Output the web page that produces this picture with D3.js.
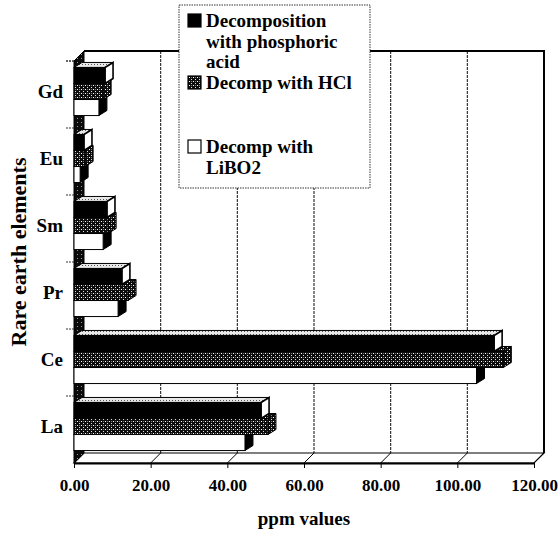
<!DOCTYPE html>
<html>
<head>
<meta charset="utf-8">
<script src="https://cdn.jsdelivr.net/npm/d3@7"></script>
<style>
  html, body { margin: 0; padding: 0; background: #fff; }
  svg { display: block; font-family: "Liberation Serif", "Times New Roman", serif; font-weight: bold; }
</style>
</head>
<body>
<svg id="chart" width="558" height="539"></svg>
<script>
// Rare earth element concentrations (ppm) by decomposition method
const categories = ["La", "Ce", "Pr", "Sm", "Eu", "Gd"];
const phosphoric = [48.8, 109.6, 12.5, 8.6, 2.6, 8.1];
const hcl        = [50.6, 112.0, 14.1, 8.9, 2.9, 7.6];
const libo2      = [44.6, 105.0, 11.5, 7.6, 1.6, 6.5];
const xTicks = [0, 20, 40, 60, 80, 100, 120];
const seriesKeys = ["phos", "hcl", "libo2"];
const legendLines = [
  ["Decomposition", "with phosphoric", "acid"],
  ["Decomp with HCl"],
  ["Decomp with", "LiBO2"]
];

const svg = d3.select("#chart");

// plot geometry: front plane plus a receding depth offset
const x = d3.scaleLinear().domain([0, 120]).range([74, 534]);
const y = d3.scaleBand().domain(categories).range([463, 61]);
const inner = d3.scaleBand().domain(seriesKeys).range([0, y.bandwidth()]).paddingOuter(0.59);
const depth = { dx: 10, dy: -10 };
const barDepth = { dx: 8, dy: -5 };
const barLift = -3;
const yTop = y.range()[1], yBot = y.range()[0];

// fill patterns
const defs = svg.append("defs");
const hp = defs.append("pattern").attr("id", "hclPat").attr("patternUnits", "userSpaceOnUse")
  .attr("width", 4).attr("height", 4);
hp.append("rect").attr("width", 4).attr("height", 4).attr("fill", "#0d0d0d");
hp.append("rect").attr("x", 1).attr("y", 1).attr("width", 1).attr("height", 1).attr("fill", "#fff");
hp.append("rect").attr("x", 3).attr("y", 3).attr("width", 1).attr("height", 1).attr("fill", "#ddd");
hp.append("rect").attr("x", 3).attr("y", 1).attr("width", 1).attr("height", 1).attr("fill", "#777");

const tp = defs.append("pattern").attr("id", "lightPat").attr("patternUnits", "userSpaceOnUse")
  .attr("width", 3).attr("height", 3);
tp.append("rect").attr("width", 3).attr("height", 3).attr("fill", "#e8e8e8");
tp.append("rect").attr("x", 1).attr("y", 1).attr("width", 1).attr("height", 1).attr("fill", "#555");

const wp = defs.append("pattern").attr("id", "wallPat").attr("patternUnits", "userSpaceOnUse")
  .attr("width", 4).attr("height", 4);
wp.append("rect").attr("width", 4).attr("height", 4).attr("fill", "#0a0a0a");
wp.append("rect").attr("x", 1).attr("y", 2).attr("width", 1).attr("height", 1).attr("fill", "#999");

const styles = {
  phos:  { front: "#000", top: "url(#lightPat)", side: "#fff" },
  hcl:   { front: "url(#hclPat)", top: "url(#hclPat)", side: "url(#hclPat)" },
  libo2: { front: "#fff", top: "#fff", side: "#000" }
};

const poly = pts => "M" + pts.map(p => p.join(",")).join("L") + "Z";

// back wall
const wall = svg.append("g");
wall.append("rect")
  .attr("x", x(0) + depth.dx).attr("y", yTop + depth.dy)
  .attr("width", x(120) - x(0)).attr("height", yBot - yTop)
  .attr("fill", "#fff");
wall.selectAll("line.grid").data(xTicks.slice(1, -1)).join("line")
  .attr("class", "grid")
  .attr("x1", d => x(d) + depth.dx).attr("x2", d => x(d) + depth.dx)
  .attr("y1", yTop + depth.dy).attr("y2", yBot + depth.dy)
  .attr("stroke", "#222").attr("stroke-width", 1.1).attr("stroke-dasharray", "3,1");
wall.append("path")
  .attr("d", `M${x(0) + depth.dx},${yTop + depth.dy}H${x(120) + depth.dx}V${yBot + depth.dy}`)
  .attr("fill", "none").attr("stroke", "#000").attr("stroke-width", 2);

// floor
svg.append("path")
  .attr("d", poly([[x(0), yBot], [x(120), yBot], [x(120) + depth.dx, yBot + depth.dy], [x(0) + depth.dx, yBot + depth.dy]]))
  .attr("fill", "#fff").attr("stroke", "#000").attr("stroke-width", 1.2);
svg.selectAll("line.floorTick").data(xTicks).join("line")
  .attr("class", "floorTick")
  .attr("x1", d => x(d)).attr("y1", yBot)
  .attr("x2", d => x(d) + depth.dx).attr("y2", yBot + depth.dy)
  .attr("stroke", "#000").attr("stroke-width", 1);

// left side wall
svg.append("path")
  .attr("d", poly([[x(0), yTop], [x(0) + depth.dx, yTop + depth.dy], [x(0) + depth.dx, yBot + depth.dy], [x(0), yBot]]))
  .attr("fill", "url(#wallPat)").attr("stroke", "#000").attr("stroke-width", 1);

// bars: bottom series first so the one above covers its top face
const seriesVals = { phos: phosphoric, hcl: hcl, libo2: libo2 };
const drawOrder = ["libo2", "hcl", "phos"];
categories.forEach((cat, i) => {
  const g = svg.append("g").attr("class", "cat");
  drawOrder.forEach(key => {
    const v = seriesVals[key][i];
    const x0 = x(0), x1 = x(v);
    const y0 = y(cat) + inner(key) + barLift, y1 = y0 + inner.bandwidth();
    const s = styles[key];
    const b = barDepth;
    g.append("path")
      .attr("d", poly([[x0, y0], [x1, y0], [x1 + b.dx, y0 + b.dy], [x0 + b.dx, y0 + b.dy]]))
      .attr("fill", s.top).attr("stroke", "#000").attr("stroke-width", 1);
    g.append("path")
      .attr("d", poly([[x1, y0], [x1 + b.dx, y0 + b.dy], [x1 + b.dx, y1 + b.dy], [x1, y1]]))
      .attr("fill", s.side).attr("stroke", "#000").attr("stroke-width", key === "phos" ? 1.6 : 1);
    g.append("rect")
      .attr("x", x0).attr("y", y0).attr("width", x1 - x0).attr("height", y1 - y0)
      .attr("fill", s.front).attr("stroke", "#000").attr("stroke-width", 1);
  });
});

// front floor edge, ticks and value labels
const xAxis = d3.axisBottom(x).tickValues(xTicks).tickFormat(d3.format(".2f"))
  .tickSize(5).tickSizeOuter(0).tickPadding(11);
const ax = svg.append("g").attr("transform", `translate(0,${yBot})`).call(xAxis);
ax.select(".domain").attr("stroke", "#000").attr("stroke-width", 2);
ax.selectAll(".tick line").attr("stroke", "#000").attr("stroke-width", 1);
ax.selectAll(".tick text")
  .attr("font-family", "'Liberation Serif', serif").attr("font-weight", "bold")
  .attr("font-size", 17).attr("fill", "#000");

// category axis: small dashed separators and labels
svg.selectAll("line.ytick").data(categories.map(c => y(c)).concat([yTop])).join("line")
  .attr("class", "ytick")
  .attr("x1", x(0) - 8).attr("x2", x(0)).attr("y1", d => d).attr("y2", d => d)
  .attr("stroke", "#333").attr("stroke-width", 1).attr("stroke-dasharray", "2,1");
svg.selectAll("text.cat").data(categories).join("text")
  .attr("class", "cat")
  .attr("x", 63).attr("y", d => y(d) + y.bandwidth() / 2 + barLift)
  .attr("dy", "0.35em").attr("text-anchor", "end")
  .attr("font-size", 19).text(d => d);

// axis titles
svg.append("text").attr("x", (x(0) + x(120)) / 2).attr("y", 525)
  .attr("text-anchor", "middle").attr("font-size", 19).text("ppm values");
svg.append("text")
  .attr("transform", `translate(26,${(yTop + yBot) / 2 - 10}) rotate(-90)`)
  .attr("text-anchor", "middle").attr("font-size", 22).text("Rare earth elements");

// legend
const lg = svg.append("g").attr("class", "legend");
lg.append("rect").attr("x", 179).attr("y", 5).attr("width", 191).attr("height", 183)
  .attr("fill", "#fff").attr("stroke", "#333").attr("stroke-width", 1).attr("stroke-dasharray", "1.5,1");
const entryY = [27, 89, 153];
seriesKeys.forEach((key, k) => {
  const by = entryY[k];
  lg.append("rect").attr("x", 188).attr("y", by - 13).attr("width", 13).attr("height", 13)
    .attr("fill", styles[key].front).attr("stroke", "#000").attr("stroke-width", 1.2);
  legendLines[k].forEach((line, j) => {
    lg.append("text").attr("x", 206).attr("y", by + j * 20.5)
      .attr("font-size", 19).text(line);
  });
});
</script>
</body>
</html>
